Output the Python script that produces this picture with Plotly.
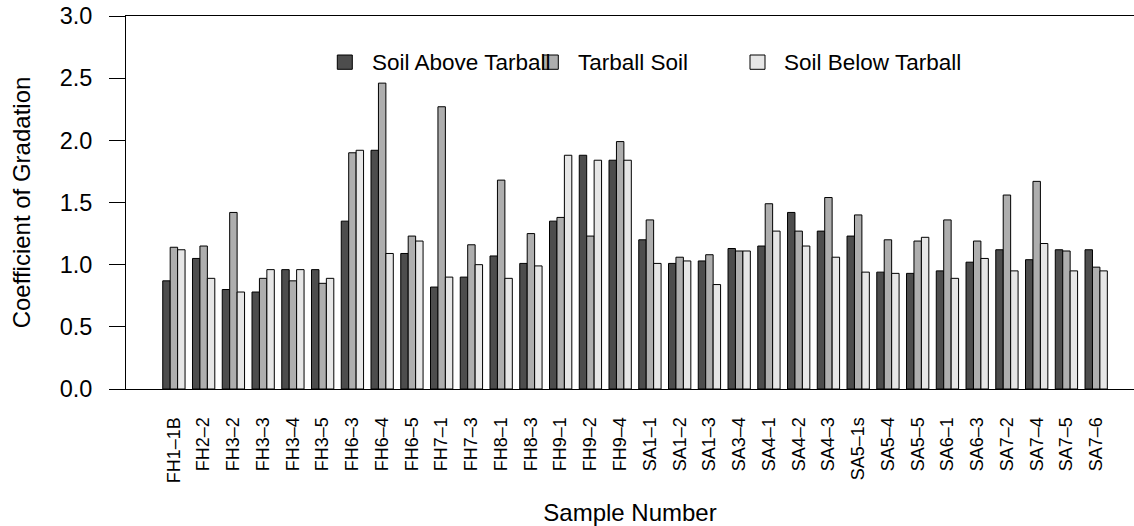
import plotly.graph_objects as go

# Sample identifiers
samples = ["FH1–1B", "FH2–2", "FH3–2", "FH3–3", "FH3–4", "FH3–5", "FH6–3", "FH6–4",
           "FH6–5", "FH7–1", "FH7–3", "FH8–1", "FH8–3", "FH9–1", "FH9–2", "FH9–4",
           "SA1–1", "SA1–2", "SA1–3", "SA3–4", "SA4–1", "SA4–2", "SA4–3", "SA5–1s",
           "SA5–4", "SA5–5", "SA6–1", "SA6–3", "SA7–2", "SA7–4", "SA7–5", "SA7–6"]

# Coefficient of gradation per layer
soil_above = [0.87, 1.05, 0.80, 0.78, 0.96, 0.96, 1.35, 1.92, 1.09, 0.82, 0.90,
              1.07, 1.01, 1.35, 1.88, 1.84, 1.20, 1.01, 1.03, 1.13, 1.15, 1.42,
              1.27, 1.23, 0.94, 0.93, 0.95, 1.02, 1.12, 1.04, 1.12, 1.12]
tarball_soil = [1.14, 1.15, 1.42, 0.89, 0.87, 0.85, 1.90, 2.46, 1.23, 2.27, 1.16,
                1.68, 1.25, 1.38, 1.23, 1.99, 1.36, 1.06, 1.08, 1.11, 1.49, 1.27,
                1.54, 1.40, 1.20, 1.19, 1.36, 1.19, 1.56, 1.67, 1.11, 0.98]
soil_below = [1.12, 0.89, 0.78, 0.96, 0.96, 0.89, 1.92, 1.09, 1.19, 0.90, 1.00,
              0.89, 0.99, 1.88, 1.84, 1.84, 1.01, 1.03, 0.84, 1.11, 1.27, 1.15,
              1.06, 0.94, 0.93, 1.22, 0.89, 1.05, 0.95, 1.17, 0.95, 0.95]

series_names = ["Soil Above Tarball", "Tarball Soil", "Soil Below Tarball"]
series_values = [soil_above, tarball_soil, soil_below]
colors = ["#4D4D4D", "#AEAEAE", "#E6E6E6"]

y_ticks = [0.0, 0.5, 1.0, 1.5, 2.0, 2.5, 3.0]
y_tick_text = ["0.0", "0.5", "1.0", "1.5", "2.0", "2.5", "3.0"]

FONT = "Liberation Sans, Arial, Helvetica, sans-serif"

fig = go.Figure()
for name, vals, col in zip(series_names, series_values, colors):
    fig.add_trace(go.Bar(
        x=samples, y=vals, name=name,
        marker=dict(color=col, line=dict(color="black", width=1)),
        showlegend=False,
    ))

W, H = 1134, 526
ML, MR, MT, MB = 126, 0, 16, 137

fig.update_layout(
    width=W, height=H,
    margin=dict(l=ML, r=MR, t=MT, b=MB, pad=0),
    paper_bgcolor="white", plot_bgcolor="white",
    barmode="group", bargap=0.25, bargroupgap=0,
    font=dict(family=FONT, color="black"),
    xaxis=dict(
        type="category",
        range=[-1.610, 32.271],
        showgrid=False, zeroline=False,
        showline=True, mirror=True, linecolor="black", linewidth=1,
        ticks="", tickangle=-90,
        tickfont=dict(size=18, family=FONT, color="black"),
        ticklabelstandoff=20,
        title=dict(text="Sample Number", font=dict(size=24, family=FONT, color="black"),
                   standoff=21),
    ),
    yaxis=dict(
        range=[0, 3],
        showgrid=False, zeroline=False,
        showline=True, linecolor="black", linewidth=1,
        ticks="outside", ticklen=16, tickwidth=1, tickcolor="black",
        tickvals=y_ticks, ticktext=y_tick_text,
        tickfont=dict(size=23.5, family=FONT, color="black"),
        ticklabelstandoff=12,
        title=dict(text="Coefficient of Gradation",
                   font=dict(size=24, family=FONT, color="black"), standoff=22),
    ),
)

# Legend drawn as boxes with labels across the top of the plot
plot_w = W - ML - MR
plot_h = H - MT - MB


def px_x(px):
    return (px - ML) / plot_w


def px_y(py):
    return (H - MB - py) / plot_h


legend_boxes = [(337.3, 370), (543.3, 576), (750, 781.7)]
for (bx, tx), name, col in zip(legend_boxes, series_names, colors):
    fig.add_shape(type="rect", xref="paper", yref="paper",
                  x0=px_x(bx), x1=px_x(bx + 15), y0=px_y(69.3), y1=px_y(55),
                  fillcolor=col, line=dict(color="black", width=1))
    fig.add_annotation(xref="paper", yref="paper", x=px_x(tx), y=px_y(62.5),
                       xanchor="left", yanchor="middle", showarrow=False,
                       text=name, font=dict(size=22.5, family=FONT, color="black"))

fig.write_html("out.html")
